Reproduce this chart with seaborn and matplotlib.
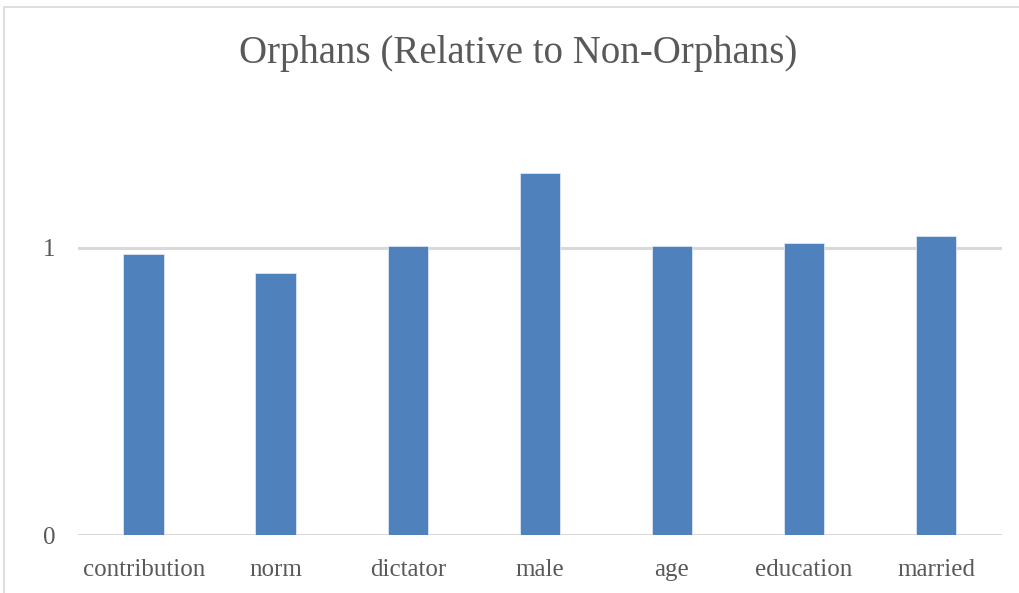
import pandas as pd
import matplotlib.pyplot as plt
import seaborn as sns
from matplotlib.patches import Rectangle

# values (ratio orphans / non-orphans)
categories = ['contribution', 'norm', 'dictator', 'male', 'age', 'education', 'married']
ratios = [0.980, 0.913, 1.006, 1.261, 1.005, 1.017, 1.042]
y_ticks = [0, 1]

df = pd.DataFrame({'variable': categories, 'ratio': ratios})

sns.set_theme(style='white')
plt.rcParams['font.family'] = ['Liberation Serif', 'DejaVu Serif']

fig = plt.figure(figsize=(10.19, 5.93), dpi=100)
ax = fig.add_axes([0.0765, 0.0978, 0.9068, 0.678])

sns.barplot(data=df, x='variable', y='ratio', color='#4F81BD', saturation=1,
            width=0.31, edgecolor='#DCE6F2', linewidth=0.6, ax=ax, zorder=3)

ax.set_ylim(0, 1.4)
ax.set_xlim(-0.5, len(categories) - 0.5)
ax.set_yticks(y_ticks)
ax.set_yticklabels([str(t) for t in y_ticks])
for t in y_ticks:
    ax.axhline(t, color='#D9D9D9', linewidth=2.2, zorder=1)

ax.tick_params(axis='both', length=0, labelsize=18, labelcolor='#595959')
ax.tick_params(axis='x', pad=17)
ax.tick_params(axis='y', pad=16)
ax.set_xlabel('')
ax.set_ylabel('')
for s in ax.spines.values():
    s.set_visible(False)

fig.text(0.509, 0.91, 'Orphans (Relative to Non-Orphans)', ha='center', va='center',
         fontsize=28, color='#595959')

# light chart-area frame like the spreadsheet export
fig.patches.append(Rectangle((4 / 1019, -0.05), 1.1, 1 - 7 / 593 + 0.05,
                             transform=fig.transFigure, fill=False,
                             edgecolor='#D9D9D9', linewidth=1.2))

fig.savefig('out.png', dpi=100)
